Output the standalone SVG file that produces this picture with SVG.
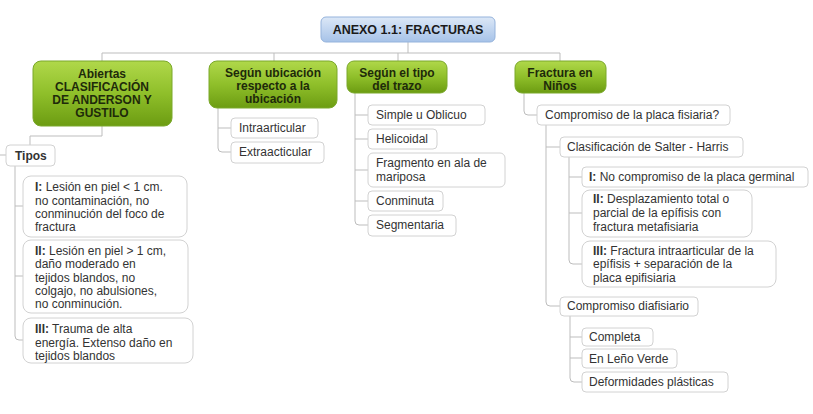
<svg xmlns="http://www.w3.org/2000/svg" width="813" height="414" viewBox="0 0 813 414">
<defs>
<linearGradient id="gGreen" x1="0" y1="0" x2="0" y2="1">
<stop offset="0" stop-color="#b0d84a"/>
<stop offset="0.5" stop-color="#8fbf2a"/>
<stop offset="1" stop-color="#6c9c12"/>
</linearGradient>
<linearGradient id="gBlue" x1="0" y1="0" x2="0" y2="1">
<stop offset="0" stop-color="#dce8f7"/>
<stop offset="1" stop-color="#a6c2e8"/>
</linearGradient>
<style>
.t{font-family:"Liberation Sans",Arial,sans-serif;font-size:12px;fill:#333}
.b{font-weight:bold}
.h{font-family:"Liberation Sans",Arial,sans-serif;font-size:12px;font-weight:bold;fill:#1e2a0a;text-anchor:middle}
.box{fill:#fff;stroke:#d2d2d2;stroke-width:1}
.green{fill:url(#gGreen);stroke:#7aa82a;stroke-width:1}
.blue{fill:url(#gBlue);stroke:#95b3dc;stroke-width:1}
.c{fill:none;stroke:#bdbdbd;stroke-width:1}
</style>
</defs>
<rect width="813" height="414" fill="#fff"/>

<g id="connectors">
<path class="c" d="M408,42 V53 M102,53 H560 M102,53 V61 M274,53 V61 M398,53 V61 M560,53 V61"/>
<path class="c" d="M102,126 V136 H30 V145 M0,155 H6"/>
<path class="c" d="M15,166 V336 Q15,340 19,340 H23 M15,206 H23 M15,276 H23"/>
<path class="c" d="M218,108 V148 Q218,152 222,152 H231 M218,128 H231"/>
<path class="c" d="M355,93 V221 Q355,225 359,225 H368 M355,115 H368 M355,139 H368 M355,170 H368 M355,201 H368"/>
<path class="c" d="M524,93 V111 Q524,115 528,115 H537"/>
<path class="c" d="M546,125 V302 Q546,306 550,306 H560 M546,147 H560"/>
<path class="c" d="M569,157 V260 Q569,264 573,264 H582 M569,177 H582 M569,213 H582"/>
<path class="c" d="M570,315 V378 Q570,382 574,382 H582 M570,337 H582 M570,358 H582"/>
</g>

<g id="root">
<rect class="blue" x="321" y="17" width="174" height="25" rx="5"/>
<text class="h" x="408" y="34" style="font-size:12.5px;fill:#1a1a1a">ANEXO 1.1: FRACTURAS</text>
</g>

<g id="abiertas">
<rect class="green" x="33" y="61" width="139" height="65" rx="8"/>
<text class="h" x="102" y="78">Abiertas</text>
<text class="h" x="102" y="91">CLASIFICACIÓN</text>
<text class="h" x="102" y="104">DE ANDERSON Y</text>
<text class="h" x="102" y="117">GUSTILO</text>
</g>

<g id="ubicacion">
<rect class="green" x="209" y="61" width="128" height="47" rx="8"/>
<text class="h" x="273" y="77">Según ubicación</text>
<text class="h" x="273" y="90">respecto a la</text>
<text class="h" x="273" y="103">ubicación</text>
</g>

<g id="trazo">
<rect class="green" x="347" y="61" width="100" height="32" rx="7"/>
<text class="h" x="397" y="77">Según el tipo</text>
<text class="h" x="397" y="90">del trazo</text>
</g>

<g id="ninos">
<rect class="green" x="515" y="61" width="91" height="32" rx="7"/>
<text class="h" x="560" y="77">Fractura en</text>
<text class="h" x="560" y="90">Niños</text>
</g>

<g id="tipos">
<rect class="box" x="6" y="145" width="49" height="21" rx="4"/>
<text class="t b" x="15" y="160">Tipos</text>
</g>

<g id="tipo1">
<rect class="box" x="23" y="176" width="164" height="61" rx="8"/>
<text class="t" x="35" y="191"><tspan class="b">I:</tspan> Lesión en piel &lt; 1 cm.</text>
<text class="t" x="35" y="205">no contaminación, no</text>
<text class="t" x="35" y="218">conminución del foco de</text>
<text class="t" x="35" y="231">fractura</text>
</g>

<g id="tipo2">
<rect class="box" x="23" y="240" width="165" height="73" rx="8"/>
<text class="t" x="35" y="255"><tspan class="b">II:</tspan> Lesión en piel &gt; 1 cm,</text>
<text class="t" x="35" y="268">daño moderado en</text>
<text class="t" x="35" y="282">tejidos blandos, no</text>
<text class="t" x="35" y="295">colgajo, no abulsiones,</text>
<text class="t" x="35" y="308">no conminución.</text>
</g>

<g id="tipo3">
<rect class="box" x="23" y="318" width="170" height="45" rx="8"/>
<text class="t" x="35" y="333"><tspan class="b">III:</tspan> Trauma de alta</text>
<text class="t" x="35" y="347">energía. Extenso daño en</text>
<text class="t" x="35" y="360">tejidos blandos</text>
</g>

<g id="intra">
<rect class="box" x="231" y="118" width="87" height="20" rx="4"/>
<text class="t" x="239" y="132">Intraarticular</text>
</g>
<g id="extra">
<rect class="box" x="231" y="142" width="93" height="21" rx="4"/>
<text class="t" x="239" y="156">Extraacticular</text>
</g>

<g id="simple">
<rect class="box" x="368" y="105" width="117" height="20" rx="4"/>
<text class="t" x="376" y="119">Simple u Oblicuo</text>
</g>
<g id="helicoidal">
<rect class="box" x="368" y="129" width="69" height="20" rx="4"/>
<text class="t" x="376" y="143">Helicoidal</text>
</g>
<g id="fragmento">
<rect class="box" x="368" y="153" width="137" height="34" rx="5"/>
<text class="t" x="376" y="167">Fragmento en ala de</text>
<text class="t" x="376" y="181">mariposa</text>
</g>
<g id="conminuta">
<rect class="box" x="368" y="191" width="75" height="20" rx="4"/>
<text class="t" x="376" y="205">Conminuta</text>
</g>
<g id="segmentaria">
<rect class="box" x="368" y="215" width="88" height="21" rx="4"/>
<text class="t" x="376" y="229">Segmentaria</text>
</g>

<g id="placa">
<rect class="box" x="537" y="105" width="193" height="20" rx="4"/>
<text class="t" x="545" y="119">Compromiso de la placa fisiaria?</text>
</g>
<g id="salter">
<rect class="box" x="560" y="137" width="183" height="20" rx="4"/>
<text class="t" x="567" y="151">Clasificación de Salter - Harris</text>
</g>
<g id="sh1">
<rect class="box" x="582" y="167" width="226" height="20" rx="4"/>
<text class="t" x="589" y="181"><tspan class="b">I:</tspan> No compromiso de la placa germinal</text>
</g>
<g id="sh2">
<rect class="box" x="582" y="190" width="170" height="47" rx="8"/>
<text class="t" x="593" y="203"><tspan class="b">II:</tspan> Desplazamiento total o</text>
<text class="t" x="593" y="217">parcial de la epífisis con</text>
<text class="t" x="593" y="231">fractura metafisiaria</text>
</g>
<g id="sh3">
<rect class="box" x="582" y="241" width="194" height="46" rx="8"/>
<text class="t" x="593" y="255"><tspan class="b">III:</tspan> Fractura intraarticular de la</text>
<text class="t" x="593" y="268">epífisis + separación de la</text>
<text class="t" x="593" y="282">placa epifisiaria</text>
</g>
<g id="diafisiario">
<rect class="box" x="560" y="297" width="138" height="19" rx="4"/>
<text class="t" x="567" y="310">Compromiso diafisiario</text>
</g>
<g id="completa">
<rect class="box" x="582" y="328" width="71" height="18" rx="4"/>
<text class="t" x="589" y="341">Completa</text>
</g>
<g id="leno">
<rect class="box" x="582" y="349" width="95" height="19" rx="4"/>
<text class="t" x="589" y="363">En Leño Verde</text>
</g>
<g id="deformidades">
<rect class="box" x="582" y="372" width="146" height="20" rx="4"/>
<text class="t" x="589" y="386">Deformidades plásticas</text>
</g>
</svg>
